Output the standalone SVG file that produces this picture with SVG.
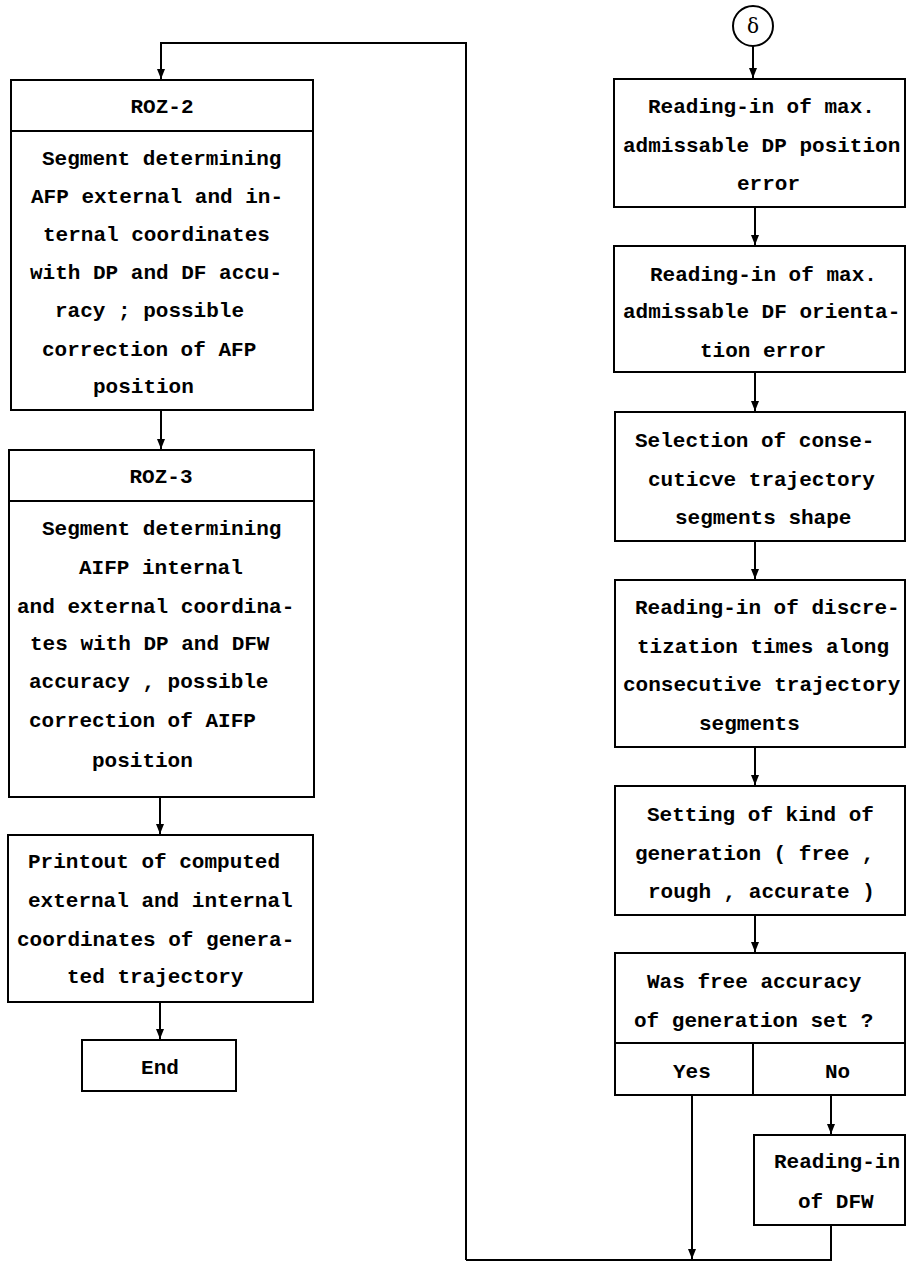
<svg xmlns="http://www.w3.org/2000/svg" width="906" height="1262" viewBox="0 0 906 1262">
<defs>
<style>
.box{fill:#fff;stroke:#000;stroke-width:2}
.ln{fill:none;stroke:#000;stroke-width:2}
.t{font-family:"Liberation Mono","DejaVu Sans Mono",monospace;font-size:21px;font-weight:bold;fill:#000}
.c{text-anchor:middle}
.greek{font-family:"DejaVu Serif","Liberation Serif",serif;font-size:20px;font-weight:normal}
</style>
<marker id="ah" viewBox="0 0 10 8" refX="10" refY="4" markerWidth="10" markerHeight="8" markerUnits="userSpaceOnUse" orient="auto">
<path d="M0,0 L10,4 L0,8 z" fill="#000"/>
</marker>
</defs>
<rect width="906" height="1262" fill="#fff"/>
<g id="connectors">
<path class="ln" d="M466,1260 V43 H161 V79" marker-end="url(#ah)"/>
<path class="ln" d="M161,410 V449" marker-end="url(#ah)"/>
<path class="ln" d="M160,797 V834" marker-end="url(#ah)"/>
<path class="ln" d="M160,1002 V1039" marker-end="url(#ah)"/>
<path class="ln" d="M753,46 V78" marker-end="url(#ah)"/>
<path class="ln" d="M755,207 V245" marker-end="url(#ah)"/>
<path class="ln" d="M755,372 V411" marker-end="url(#ah)"/>
<path class="ln" d="M755,541 V579" marker-end="url(#ah)"/>
<path class="ln" d="M755,747 V785" marker-end="url(#ah)"/>
<path class="ln" d="M755,915 V952" marker-end="url(#ah)"/>
<path class="ln" d="M831,1095 V1134" marker-end="url(#ah)"/>
<path class="ln" d="M692,1095 V1259" marker-end="url(#ah)"/>
<path class="ln" d="M831,1225 V1260 H466"/>
</g>
<g id="roz2">
<rect class="box" x="11" y="80" width="302" height="330"/>
<line class="ln" x1="11" y1="131" x2="313" y2="131"/>
<text class="t c" x="162" y="113">ROZ-2</text>
<text class="t" x="42" y="165">Segment determining</text>
<text class="t" x="31" y="203">AFP external and in-</text>
<text class="t" x="43" y="241">ternal coordinates</text>
<text class="t" x="30" y="279">with DP and DF accu-</text>
<text class="t" x="55" y="317">racy ; possible</text>
<text class="t" x="42" y="356">correction of AFP</text>
<text class="t" x="93" y="393">position</text>
</g>
<g id="roz3">
<rect class="box" x="9" y="450" width="305" height="347"/>
<line class="ln" x1="9" y1="501" x2="314" y2="501"/>
<text class="t c" x="161" y="483">ROZ-3</text>
<text class="t" x="42" y="535">Segment determining</text>
<text class="t" x="79" y="574">AIFP internal</text>
<text class="t" x="17" y="613">and external coordina-</text>
<text class="t" x="30" y="650">tes with DP and DFW</text>
<text class="t" x="29" y="688">accuracy , possible</text>
<text class="t" x="29" y="727">correction of AIFP</text>
<text class="t" x="92" y="767">position</text>
</g>
<g id="printout">
<rect class="box" x="8" y="835" width="305" height="167"/>
<text class="t" x="28" y="868">Printout of computed</text>
<text class="t" x="28" y="907">external and internal</text>
<text class="t" x="17" y="946">coordinates of genera-</text>
<text class="t" x="67" y="983">ted trajectory</text>
</g>
<g id="end">
<rect class="box" x="82" y="1040" width="154" height="51"/>
<text class="t c" x="160" y="1074">End</text>
</g>
<g id="delta">
<circle class="box" cx="753" cy="26" r="20"/>
<text class="t c greek" x="753" y="33">δ</text>
</g>
<g id="box1">
<rect class="box" x="614" y="79" width="291" height="128"/>
<text class="t" x="648" y="113">Reading-in of max.</text>
<text class="t" x="623" y="152">admissable DP position</text>
<text class="t" x="737" y="190">error</text>
</g>
<g id="box2">
<rect class="box" x="614" y="246" width="291" height="126"/>
<text class="t" x="650" y="281">Reading-in of max.</text>
<text class="t" x="623" y="318">admissable DF orienta-</text>
<text class="t" x="700" y="357">tion error</text>
</g>
<g id="box3">
<rect class="box" x="615" y="412" width="290" height="129"/>
<text class="t" x="635" y="447">Selection of conse-</text>
<text class="t" x="648" y="486">cuticve trajectory</text>
<text class="t" x="675" y="524">segments shape</text>
</g>
<g id="box4">
<rect class="box" x="615" y="580" width="290" height="167"/>
<text class="t" x="635" y="614">Reading-in of discre-</text>
<text class="t" x="637" y="653">tization times along</text>
<text class="t" x="623" y="691">consecutive trajectory</text>
<text class="t" x="699" y="730">segments</text>
</g>
<g id="box5">
<rect class="box" x="615" y="786" width="290" height="129"/>
<text class="t" x="647" y="821">Setting of kind of</text>
<text class="t" x="635" y="860">generation ( free ,</text>
<text class="t" x="648" y="898">rough , accurate )</text>
</g>
<g id="decision">
<rect class="box" x="615" y="953" width="290" height="142"/>
<line class="ln" x1="615" y1="1043" x2="905" y2="1043"/>
<line class="ln" x1="753" y1="1043" x2="753" y2="1095"/>
<text class="t" x="647" y="988">Was free accuracy</text>
<text class="t" x="634" y="1027">of generation set ?</text>
<text class="t" x="673" y="1078">Yes</text>
<text class="t" x="825" y="1078">No</text>
</g>
<g id="dfw">
<rect class="box" x="754" y="1135" width="151" height="90"/>
<text class="t" x="774" y="1168">Reading-in</text>
<text class="t" x="798" y="1208">of DFW</text>
</g>
</svg>
